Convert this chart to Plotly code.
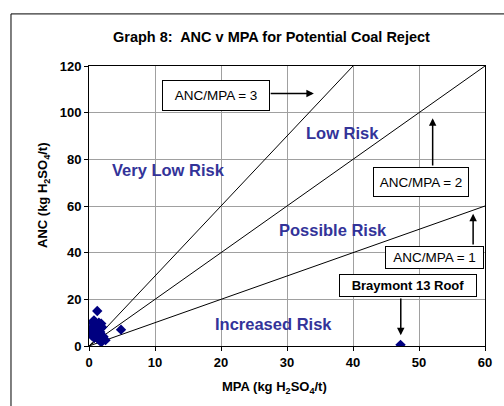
import plotly.graph_objects as go

# Data
mpa = [1.25, 0.75, 0.5, 0.1, 0.3, 0.6, 1.0, 1.5, 1.85, 2.0, 1.2, 0.9, 1.5, 2.2, 2.5, 1.85, 1.4, 0.8, 0.4, 1.7, 4.85, 47.2]
anc = [15.0, 11.0, 10.0, 7.0, 6.0, 8.0, 9.0, 10.0, 9.6, 8.0, 7.0, 5.0, 5.0, 4.0, 2.5, 1.6, 3.0, 3.5, 4.5, 6.0, 7.0, 0.5]
ratios = [3, 2, 1]
line_x = [0, 60]
x_ticks = [0, 10, 20, 30, 40, 50, 60]
y_ticks = [0, 20, 40, 60, 80, 100, 120]

FONT = "Arial, Liberation Sans, sans-serif"
BLUE = "#333399"
GRID = "#a0a0a0"

fig = go.Figure()

for r in ratios:
    fig.add_trace(go.Scatter(x=line_x, y=[v * r for v in line_x], mode="lines",
                             line=dict(color="black", width=1), showlegend=False,
                             hoverinfo="skip"))
fig.add_trace(go.Scatter(x=mpa, y=anc, mode="markers",
                         marker=dict(symbol="diamond", size=8, color="#000080"),
                         showlegend=False))

fig.update_layout(
    width=504, height=406,
    margin=dict(l=89, r=14, t=66, b=60),
    paper_bgcolor="white", plot_bgcolor="white",
    font=dict(family=FONT, color="black"),
    xaxis=dict(range=[0, 60], tickvals=x_ticks, showgrid=True, gridcolor=GRID, gridwidth=1,
               showline=True, linecolor="black", linewidth=1, mirror=True,
               ticks="outside", ticklen=4, tickcolor="black", zeroline=False,
               tickfont=dict(size=13, family=FONT, weight="bold")),
    yaxis=dict(range=[0, 120], tickvals=y_ticks, showgrid=True, gridcolor=GRID, gridwidth=1,
               showline=True, linecolor="black", linewidth=1, mirror=True,
               ticks="outside", ticklen=4, tickcolor="black", zeroline=False,
               tickfont=dict(size=13, family=FONT, weight="bold")),
)

# outer chart border
fig.add_shape(type="rect", xref="paper", yref="paper", x0=-0.197, x1=1.2, y0=-0.4, y1=1.186,
              line=dict(color="black", width=1), fillcolor="rgba(0,0,0,0)", layer="above")

ann = []
ann.append(dict(text="<b>Graph 8:  ANC v MPA for Potential Coal Reject</b>", xref="paper", yref="paper",
                x=0.4606, y=1.139, showarrow=False, font=dict(size=14.5, family=FONT)))
ann.append(dict(text="<b>MPA (kg H<sub>2</sub>SO<sub>4</sub>/t)</b>", xref="paper", yref="paper",
                x=0.468, y=-0.186, showarrow=False, font=dict(size=13, family=FONT)))
ann.append(dict(text="<b>ANC (kg H<sub>2</sub>SO<sub>4</sub>/t)</b>", xref="paper", yref="paper",
                x=-0.140, y=0.536, showarrow=False, textangle=-90, font=dict(size=13, family=FONT)))

# region labels
for txt, x, y in [("Very Low Risk", 12.0, 75.3), ("Low Risk", 38.4, 91.1),
                  ("Possible Risk", 37.0, 49.6), ("Increased Risk", 28.0, 9.3)]:
    ann.append(dict(text="<b>" + txt + "</b>", x=x, y=y, xref="x", yref="y", showarrow=False,
                    font=dict(size=16.5, color=BLUE, family=FONT)))

# boxed labels
for txt, x, y, w, h, bold in [("ANC/MPA = 3", 19.3, 107.5, 104, 27, False),
                              ("ANC/MPA = 2", 50.35, 70.3, 92, 26, False),
                              ("ANC/MPA = 1", 52.3, 38.0, 95, 19, False),
                              ("Braymont 13 Roof", 48.36, 25.9, 134, 19, True)]:
    ann.append(dict(text=("<b>%s</b>" % txt) if bold else txt, x=x, y=y, xref="x", yref="y",
                    showarrow=False, width=w, height=h, bordercolor="black", borderwidth=1,
                    borderpad=1, bgcolor="white",
                    font=dict(size=13.5 if not bold else 13, family=FONT, color="black")))

# arrows
for x, y, ax, ay in [(34.07, 108.2, -44.7, 0), (52.07, 97.6, 0, 48.7),
                     (58.2, 56.7, 0, 32.4), (47.24, 4.6, 0, -38.3)]:
    ann.append(dict(text="", x=x, y=y, xref="x", yref="y", ax=ax, ay=ay, showarrow=True,
                    arrowhead=2, arrowsize=1, arrowwidth=1.5, arrowcolor="black", standoff=0))

fig.update_layout(annotations=ann)
fig.write_html("out.html")
